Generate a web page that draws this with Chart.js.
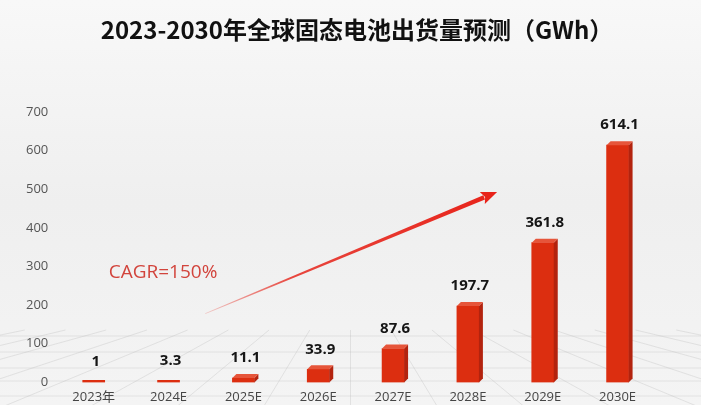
<!DOCTYPE html>
<html><head><meta charset="utf-8">
<script src="https://cdn.jsdelivr.net/npm/chart.js@4/dist/chart.umd.min.js"></script>
<style>html,body{margin:0;padding:0;background:#f2f2f2;}#wrap{width:701px;height:405px;}</style>
</head><body><div id="wrap"><canvas id="c" width="701" height="405"></canvas></div>
<script>
const categories = ["2023年","2024E","2025E","2026E","2027E","2028E","2029E","2030E"];
const shipments = [1, 3.3, 11.1, 33.9, 87.6, 197.7, 361.8, 614.1];
const yTicks = [0,100,200,300,400,500,600,700];
const titleText = "2023-2030年全球固态电池出货量预测（GWh）";
const cagrText = "CAGR=150%";
// annotation anchors in data coordinates: [categoryIndex, value]
const cagrAnchor = [0.2, 284];
const arrowFrom = [1.49, 178];
const arrowTo = [5.39, 493];

const bgPlugin = {
  id: 'bg',
  beforeDraw(chart) {
    const {ctx, width, height} = chart;
    const g = ctx.createLinearGradient(0,0,0,height);
    g.addColorStop(0,'#f8f8f8');
    g.addColorStop(0.5,'#efefef');
    g.addColorStop(1,'#f4f4f4');
    ctx.save();
    ctx.fillStyle = g;
    ctx.fillRect(0,0,width,height);
    const ca = chart.chartArea;
    ctx.strokeStyle = 'rgba(190,190,190,0.35)';
    ctx.lineWidth = 1;
    const vx = width/2, vy = ca.bottom - 120;
    for (let i=-6;i<=14;i++){
      const bx = vx + i*110 - 330;
      ctx.beginPath();
      const t = (330 - vy)/(height+40 - vy);
      ctx.moveTo(vx + (bx - vx)*t, 330);
      ctx.lineTo(bx, height+40);
      ctx.stroke();
    }
    [336, 352, 368, 381, 396].forEach(y=>{
      ctx.beginPath(); ctx.moveTo(0,y); ctx.lineTo(width,y); ctx.stroke();
    });
    ctx.fillStyle = '#111';
    ctx.font = 'bold 24px "Noto Sans CJK SC", sans-serif';
    ctx.textAlign = 'center';
    ctx.textBaseline = 'middle';
    ctx.fillText(titleText, 357, 30);
    ctx.restore();
  }
};

const bar3d = {
  id: 'bar3d',
  afterDatasetsDraw(chart) {
    const {ctx} = chart;
    const meta = chart.getDatasetMeta(0);
    const yb = chart.scales.y.getPixelForValue(0);
    ctx.save();
    meta.data.forEach((b, i) => {
      const w = b.width, x0 = b.x - w/2, x1 = b.x + w/2, top = b.y;
      const dx = 4, dy = 4;
      if (yb - top < 4) return;
      ctx.fillStyle = '#b3230e';
      ctx.beginPath();
      ctx.moveTo(x1, top); ctx.lineTo(x1+dx, top-dy); ctx.lineTo(x1+dx, yb-dy); ctx.lineTo(x1, yb);
      ctx.closePath(); ctx.fill();
      ctx.fillStyle = '#e6553a';
      ctx.beginPath();
      ctx.moveTo(x0, top); ctx.lineTo(x0+dx, top-dy); ctx.lineTo(x1+dx, top-dy); ctx.lineTo(x1, top);
      ctx.closePath(); ctx.fill();
    });
    ctx.restore();
  },
  afterDraw(chart) {
    const {ctx} = chart;
    const xs = chart.scales.x, ys = chart.scales.y;
    const meta = chart.getDatasetMeta(0);
    ctx.save();
    ctx.fillStyle = '#151515';
    ctx.font = 'bold 15px "Open Sans", "Noto Sans", sans-serif';
    ctx.textAlign = 'center';
    ctx.textBaseline = 'middle';
    meta.data.forEach((b, i) => {
      ctx.fillText(String(shipments[i]), b.x + 2, ys.getPixelForValue(shipments[i]) - 20);
    });
    ctx.fillStyle = '#d2443c';
    ctx.font = '19px "Open Sans", "Noto Sans", sans-serif';
    ctx.textAlign = 'left';
    ctx.fillText(cagrText, xs.getPixelForValue(cagrAnchor[0]), ys.getPixelForValue(cagrAnchor[1]));
    const sx = xs.getPixelForValue(arrowFrom[0]), sy = ys.getPixelForValue(arrowFrom[1]);
    const ex = xs.getPixelForValue(arrowTo[0]), ey = ys.getPixelForValue(arrowTo[1]);
    const ang = Math.atan2(ey - sy, ex - sx);
    const len = Math.hypot(ex - sx, ey - sy);
    ctx.translate(sx, sy); ctx.rotate(ang);
    const g = ctx.createLinearGradient(0,0,len,0);
    g.addColorStop(0,'rgba(230,40,30,0.2)');
    g.addColorStop(0.3,'rgba(230,40,30,0.85)');
    g.addColorStop(1,'#e8231a');
    ctx.fillStyle = g;
    const hl = 14;
    ctx.beginPath();
    ctx.moveTo(0,-0.3); ctx.lineTo(len-hl,-2.2); ctx.lineTo(len-hl,2.2); ctx.lineTo(0,0.3);
    ctx.closePath(); ctx.fill();
    ctx.fillStyle = '#e8231a';
    ctx.beginPath();
    ctx.moveTo(len,0); ctx.lineTo(len-hl-2,-6.5); ctx.lineTo(len-hl+1,0); ctx.lineTo(len-hl-2,6.5);
    ctx.closePath(); ctx.fill();
    ctx.restore();
  }
};

new Chart(document.getElementById('c'), {
  type: 'bar',
  data: {
    labels: categories,
    datasets: [{
      data: shipments,
      backgroundColor: '#dc2e10',
      barThickness: 22,
      minBarLength: 2,
      borderWidth: 0
    }]
  },
  options: {
    responsive: false,
    animation: false,
    layout: { padding: { left: 18, right: 46, top: 112, bottom: -7 } },
    plugins: {
      legend: { display: false },
      tooltip: { enabled: false },
      title: { display: false }
    },
    scales: {
      x: {
        grid: { display: false, drawTicks: false },
        border: { display: false },
        ticks: { color: '#454545', padding: 7, font: { family: '"Open Sans", "Noto Sans CJK SC", sans-serif', size: 13 } }
      },
      y: {
        min: 0, max: 700,
        afterBuildTicks(scale) { scale.ticks = yTicks.map(v => ({value: v})); },
        grid: { display: false, drawTicks: false },
        border: { display: false },
        ticks: { color: '#555', padding: 8, font: { family: '"Open Sans", "Noto Sans", sans-serif', size: 13 } }
      }
    }
  },
  plugins: [bgPlugin, bar3d]
});
</script>
</body></html>
